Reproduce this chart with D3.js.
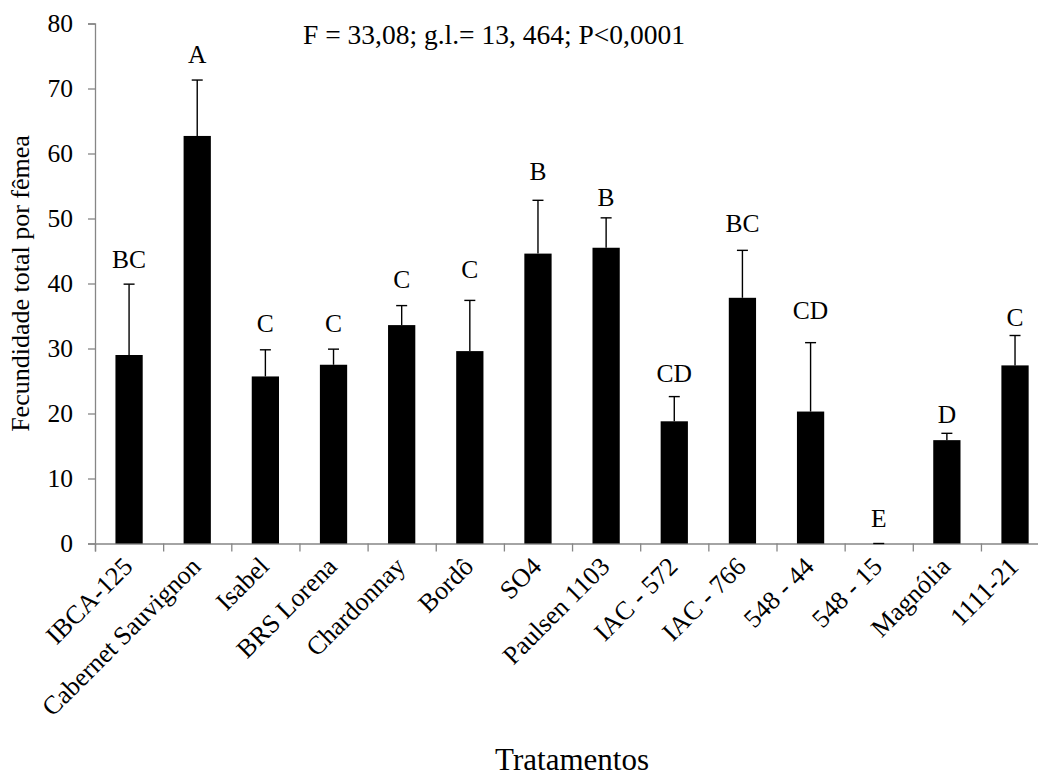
<!DOCTYPE html>
<html>
<head>
<meta charset="utf-8">
<script src="https://cdn.jsdelivr.net/npm/d3@7"></script>
<style>
  html, body { margin: 0; padding: 0; background: #fff; }
  svg { display: block; }
  text { font-family: "Liberation Serif", "Times New Roman", serif; fill: #000; }
</style>
</head>
<body>
<svg id="chart" width="1038" height="776"></svg>
<script>
// ---- data ----
const categories = ["IBCA-125", "Cabernet Sauvignon", "Isabel", "BRS Lorena", "Chardonnay", "Bordô", "SO4",
  "Paulsen 1103", "IAC - 572", "IAC - 766", "548 - 44", "548 - 15", "Magnólia", "1111-21"];
const means = [29.0, 62.7, 25.7, 27.5, 33.6, 29.6, 44.6, 45.5, 18.8, 37.8, 20.3, 0, 15.9, 27.4];
const errors = [10.9, 8.6, 4.1, 2.4, 3.0, 7.8, 8.2, 4.6, 3.8, 7.3, 10.6, 0, 1.05, 4.6];
const letters = ["BC", "A", "C", "C", "C", "C", "B", "B", "CD", "BC", "CD", "E", "D", "C"];
const letterAt = [42.4, 73.9, 32.5, 32.5, 39.35, 40.8, 55.9, 52.0, 24.9, 47.9, 34.5, 2.6, 18.6, 33.4];
const yTicks = [0, 10, 20, 30, 40, 50, 60, 70, 80];
const statText = "F = 33,08; g.l.= 13, 464; P<0,0001";
const xTitle = "Tratamentos";
const yTitle = "Fecundidade total por fêmea";

// ---- layout ----
const svg = d3.select("#chart");
const mLeft = 95, mRight = 1049.1, mTop = 23.5, mBottom = 543.5;
const axisColor = "#868686";
const serif = "Liberation Serif, Times New Roman, serif";

const y = d3.scaleLinear().domain([0, 80]).range([mBottom, mTop]);
const x = d3.scaleBand().domain(categories).range([mLeft, mRight]).paddingInner(0.6).paddingOuter(0.3);
const xEdges = d3.scaleLinear().domain([0, categories.length]).range([mLeft, mRight]);

// y axis
const yAxis = svg.append("g").attr("transform", `translate(${mLeft},0)`)
  .call(d3.axisLeft(y).tickValues(yTicks).tickSize(7).tickPadding(15).tickFormat(d3.format("d")));
yAxis.attr("font-family", serif);
yAxis.select(".domain").attr("stroke", axisColor).attr("stroke-width", 1.3);
yAxis.selectAll(".tick line").attr("stroke", axisColor).attr("stroke-width", 1.3);
yAxis.selectAll(".tick text").attr("font-size", 25.5).attr("fill", "#000");

// x axis (category edges)
const xAxis = svg.append("g").attr("transform", `translate(0,${mBottom})`)
  .call(d3.axisBottom(xEdges).tickValues(d3.range(categories.length + 1)).tickSize(8).tickFormat(""));
xAxis.select(".domain").attr("stroke", axisColor).attr("stroke-width", 1.3);
xAxis.selectAll(".tick line").attr("stroke", axisColor).attr("stroke-width", 1.3);

// bars
const data = categories.map((c, i) => ({ c, m: means[i], e: errors[i], l: letters[i], la: letterAt[i] }));
svg.append("g").selectAll("rect").data(data).join("rect")
  .attr("x", d => x(d.c)).attr("width", x.bandwidth())
  .attr("y", d => y(d.m)).attr("height", d => y(0) - y(d.m))
  .attr("fill", "#000");

// error bars
const cx = d => x(d.c) + x.bandwidth() / 2;
const eg = svg.append("g").attr("stroke", "#000").attr("stroke-width", 1.4);
eg.selectAll("line.v").data(data).join("line").attr("class", "v")
  .attr("x1", cx).attr("x2", cx)
  .attr("y1", d => y(d.m)).attr("y2", d => y(d.m + d.e));
eg.selectAll("line.cap").data(data).join("line").attr("class", "cap")
  .attr("x1", d => cx(d) - 5.5).attr("x2", d => cx(d) + 5.5)
  .attr("y1", d => y(d.m + d.e)).attr("y2", d => y(d.m + d.e));

// significance letters
svg.append("g").selectAll("text").data(data).join("text")
  .attr("x", cx).attr("y", d => y(d.la))
  .attr("text-anchor", "middle").attr("font-size", 25.5).text(d => d.l);

// category labels
svg.append("g").selectAll("text").data(data).join("text")
  .attr("transform", d => `translate(${cx(d) + 5},568) rotate(-45)`)
  .attr("text-anchor", "end").attr("font-size", 26).text(d => d.c);

// stat text
svg.append("text").attr("x", 303).attr("y", 44).attr("font-size", 27.5).text(statText);

// axis titles
svg.append("text").attr("x", (mLeft + mRight) / 2).attr("y", 770).attr("text-anchor", "middle")
  .attr("font-size", 31).text(xTitle);
svg.append("text").attr("transform", `translate(29,${(mTop + mBottom) / 2}) rotate(-90)`)
  .attr("text-anchor", "middle").attr("font-size", 26).text(yTitle);
</script>
</body>
</html>
